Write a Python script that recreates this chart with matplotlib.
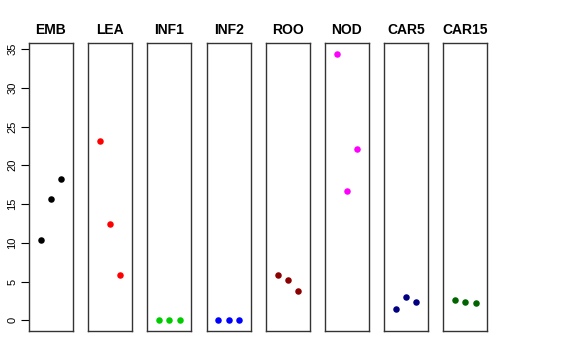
import matplotlib
matplotlib.use("Agg")
import matplotlib.pyplot as plt

plt.rcParams['font.family'] = ['Liberation Sans', 'DejaVu Sans']

tissues = ["EMB", "LEA", "INF1", "INF2", "ROO", "NOD", "CAR5", "CAR15"]
colors = ["#000000", "#FF0000", "#00CD00", "#0000FF", "#8B0000", "#FF00FF", "#000080", "#006400"]
emb = [10.4, 15.6, 18.2]
lea = [23.1, 12.4, 5.8]
inf1 = [0.0, 0.0, 0.0]
inf2 = [0.0, 0.0, 0.0]
roo = [5.9, 5.2, 3.8]
nod = [34.3, 16.7, 22.1]
car5 = [1.4, 3.0, 2.3]
car15 = [2.6, 2.3, 2.2]
series = [emb, lea, inf1, inf2, roo, nod, car5, car15]
yticks = [0, 5, 10, 15, 20, 25, 30, 35]

W, H = 576, 360
fig = plt.figure(figsize=(W / 100, H / 100), dpi=100)
ymin = -1.38
ymax = 35.78
for i, (name, vals, c) in enumerate(zip(tissues, series, colors)):
    left = 29 + i * 59.2
    ax = fig.add_axes([left / W, (H - 331) / H, 44 / W, 288 / H])
    ax.scatter([1, 2, 3], vals, s=22, color=c, zorder=3, linewidths=0)
    ax.set_xlim(-0.16, 4.16)
    ax.set_ylim(ymin, ymax)
    ax.set_xticks([])
    for sp in ax.spines.values():
        sp.set_linewidth(1.0)
        sp.set_color("#333333")
    ax.set_title(name, fontsize=10, fontweight='bold', pad=6.5)
    if i == 0:
        ax.set_yticks(yticks)
        ax.set_yticklabels([str(t) for t in yticks], rotation=90, va='center', fontsize=8)
        ax.tick_params(axis='y', length=5.5, width=0.8, pad=3)
    else:
        ax.set_yticks([])

fig.savefig("out.png", dpi=100)
